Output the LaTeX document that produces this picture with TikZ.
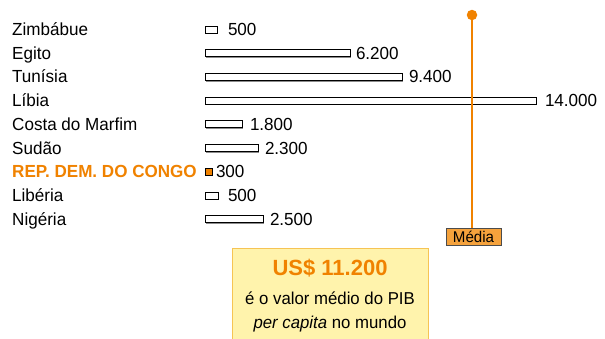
\documentclass[tikz,border=0pt]{standalone}
\usepackage{fontspec}
\setmainfont{Liberation Sans}
\newfontfamily\narrowsans{Liberation Sans}[FakeStretch=0.975]
\usepackage{tikz}
\usetikzlibrary{positioning, shadows}
\definecolor{pibOrange}{RGB}{240,130,0}
\definecolor{mediaFill}{RGB}{245,162,60}
\definecolor{infoFill}{RGB}{255,243,172}
\definecolor{infoBorder}{RGB}{246,196,84}
\tikzstyle{country} = [anchor=base west, inner sep=0pt, font=\narrowsans\fontsize{17.5}{19}\selectfont]
\tikzstyle{congo} = [country, text=pibOrange, font=\narrowsans\fontsize{17.5}{19}\selectfont\bfseries]
\tikzstyle{bar} = [rectangle, anchor=west, minimum height=7pt, inner sep=0pt, draw=black, line width=0.8pt, fill=white, drop shadow={shadow xshift=0.9pt, shadow yshift=-1.1pt, fill=black!45, opacity=1}]
\tikzstyle{value} = [inner sep=0pt, font=\narrowsans\fontsize{17.5}{19}\selectfont]
\tikzstyle{meandot} = [circle, fill=pibOrange, minimum size=10.5pt, inner sep=0pt]
\tikzstyle{meanline} = [pibOrange, line width=2pt]
\tikzstyle{mediabox} = [rectangle, draw=black!70, line width=1pt, fill=mediaFill, minimum width=55pt, minimum height=17pt, inner sep=0pt, font=\narrowsans\fontsize{15.5}{17}\selectfont]
\tikzstyle{infobox} = [rectangle, anchor=north, draw=infoBorder, fill=infoFill, line width=1pt, minimum width=196pt, minimum height=96pt]
\tikzstyle{infotitle} = [anchor=base, inner sep=0pt, text=pibOrange, font=\fontsize{22}{24}\selectfont\bfseries]
\tikzstyle{infotext} = [anchor=base, inner sep=0pt, font=\narrowsans\fontsize{17.2}{19}\selectfont]
\begin{document}
\begin{tikzpicture}[x=1pt, y=-1pt]
        \useasboundingbox (0,0) rectangle (605,338);

        \node[country] (zimbabwe) at (12,35.5)  {Zimbábue};
        \node[country] (egito)    at (12,59.2)  {Egito};
        \node[country] (tunisia)  at (12,82.9)  {Tunísia};
        \node[country] (libia)    at (12,106.6) {Líbia};
        \node[country] (costa)    at (12,130.3) {Costa do Marfim};
        \node[country] (sudao)    at (12,154)   {Sudão};
        \node[congo]   (congo)    at (12,177.7) {REP. DEM. DO CONGO};
        \node[country] (liberia)  at (12,201.4) {Libéria};
        \node[country] (nigeria)  at (12,225.1) {Nigéria};

        \node[bar, minimum width=12pt]  (bar zimbabwe) at (205,29.5)  {};
        \node[bar, minimum width=145pt] (bar egito)    at (205,53.2)  {};
        \node[bar, minimum width=197pt] (bar tunisia)  at (205,76.9)  {};
        \node[bar, minimum width=331pt] (bar libia)    at (205,100.6) {};
        \node[bar, minimum width=37pt]  (bar costa)    at (205,124.3) {};
        \node[bar, minimum width=53pt]  (bar sudao)    at (205,148)   {};
        \node[bar, minimum width=7pt, fill=pibOrange] (bar congo) at (205,171.7) {};
        \node[bar, minimum width=13pt]  (bar liberia)  at (205,195.4) {};
        \node[bar, minimum width=58pt]  (bar nigeria)  at (205,219.1) {};

        \node[value, right=10pt of bar zimbabwe] (val zimbabwe) {500};
        \node[value, right=5pt of bar egito]     (val egito)    {6.200};
        \node[value, right=6pt of bar tunisia]   (val tunisia)  {9.400};
        \node[value, right=8pt of bar libia]     (val libia)    {14.000};
        \node[value, right=7pt of bar costa]     (val costa)    {1.800};
        \node[value, right=6pt of bar sudao]     (val sudao)    {2.300};
        \node[value, right=3pt of bar congo]     (val congo)    {300};
        \node[value, right=9pt of bar liberia]   (val liberia)  {500};
        \node[value, right=6pt of bar nigeria]   (val nigeria)  {2.500};

        % media mundial
        \node[meandot]  (mean top) at (472,15) {};
        \node[mediabox] (media)    at (473.5,236.5) {Média};
        \draw[meanline] (mean top.center) -- (mean top.center |- media.north);

        \node[infobox]   (info)      at (330,247.5) {};
        \node[infotitle] (pib value) at (330,275)   {US\$ 11.200};
        \node[infotext]  (pib line)  at (330,304.5) {é o valor médio do PIB};
        \node[infotext]  (pib world) at (330,328)   {\textit{per capita} no mundo};
    \end{tikzpicture}
\end{document}
